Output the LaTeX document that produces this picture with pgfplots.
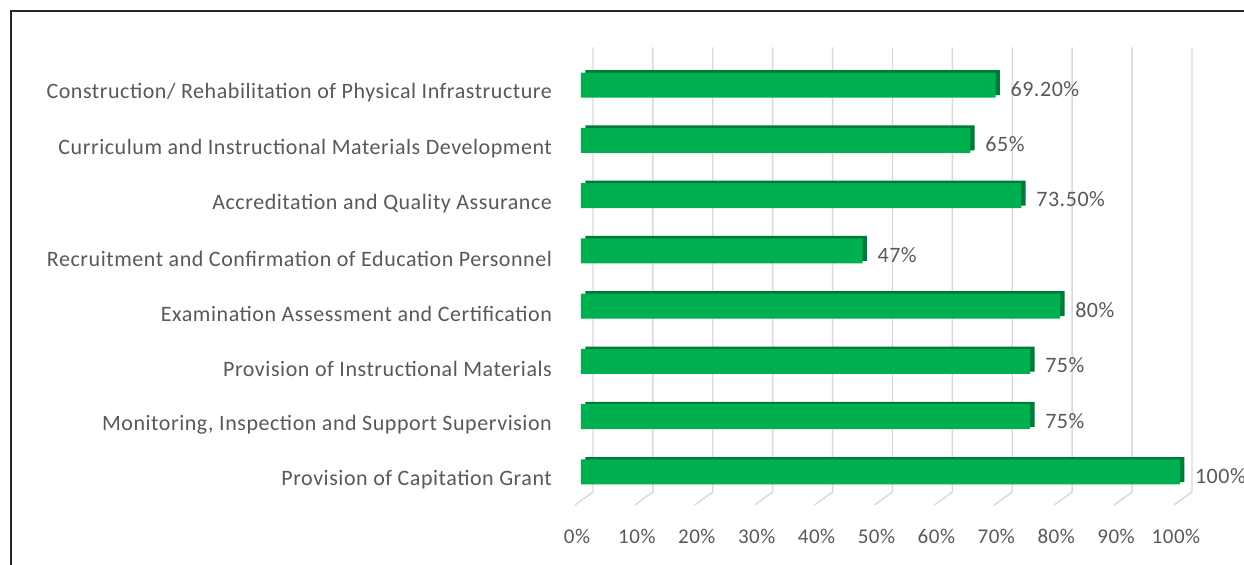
\documentclass[border=0pt]{standalone}
\usepackage{pgfplots}
\pgfplotsset{compat=1.18}
\usepackage{fontspec}
\setmainfont{Carlito}
\newfontfamily\lblfont[LetterSpace=2.5]{Carlito}
\definecolor{barg}{HTML}{00B050}
\definecolor{bard}{HTML}{007A38}
\definecolor{txt}{HTML}{595959}
\definecolor{grd}{HTML}{D9D9D9}
\begin{document}
\begin{tikzpicture}[x=1pt,y=1pt]
\useasboundingbox (0,0) rectangle (622,282.5);
\fill[white] (0,0) rectangle (622,282.5);
\draw[line width=0.8pt, black!85] (5.5,0) -- (5.5,277) -- (623,277);
\begin{axis}[
  at={(290.5pt,32.7pt)}, anchor=south west,
  scale only axis, width=299.5pt, height=221.1pt,
  xmin=0, xmax=100, ymin=-0.5, ymax=7.5,
  axis line style={draw=none},
  major tick length=0pt,
  clip=false,
  xtick={0,10,...,100},
  xticklabel={\pgfmathprintnumber{\tick}\%},
  xticklabel style={yshift=-11.4pt, xshift=-2pt, font=\fontsize{10.5}{12}\lblfont},
  ytick={0,...,7},
  yticklabels={Provision of Capitation Grant,
    {Monitoring, Inspection and Support Supervision},
    Provision of Instructional Materials,
    Examination Assessment and Certification,
    Recruitment and Confirmation of Education Personnel,
    Accreditation and Quality Assurance,
    Curriculum and Instructional Materials Development,
    Construction/ Rehabilitation of Physical Infrastructure},
  yticklabel style={xshift=-11pt, yshift=-4pt, font=\fontsize{11}{13}\lblfont},
  tick label style={text=txt},
  /pgf/number format/assume math mode=true,
  xbar, bar width=12.5pt, bar shift=0pt,
]
\pgfplotsinvokeforeach{0,10,...,100}{
  \draw[grd, line width=0.7pt]
    ([xshift=6pt,yshift=5pt]axis cs:#1,7.5) --
    ([xshift=6pt,yshift=3.8pt]axis cs:#1,-0.5) --
    ([xshift=-3pt,yshift=-2.7pt]axis cs:#1,-0.5);
}
\addplot[fill=bard, draw=none, xshift=2.2pt, yshift=1.2pt] coordinates {
  (100,0) (75,1) (75,2) (80,3) (47,4) (73.5,5) (65,6) (69.2,7)};
\addplot[fill=barg, draw=none,
  point meta=explicit symbolic,
  nodes near coords,
  nodes near coords style={anchor=west, xshift=4pt, yshift=-2pt, text=txt, font=\fontsize{11}{13}\lblfont}]
  coordinates {
  (100,0) [100\%]
  (75,1) [75\%]
  (75,2) [75\%]
  (80,3) [80\%]
  (47,4) [47\%]
  (73.5,5) [73.50\%]
  (65,6) [65\%]
  (69.2,7) [69.20\%]};
\end{axis}
\end{tikzpicture}
\end{document}
